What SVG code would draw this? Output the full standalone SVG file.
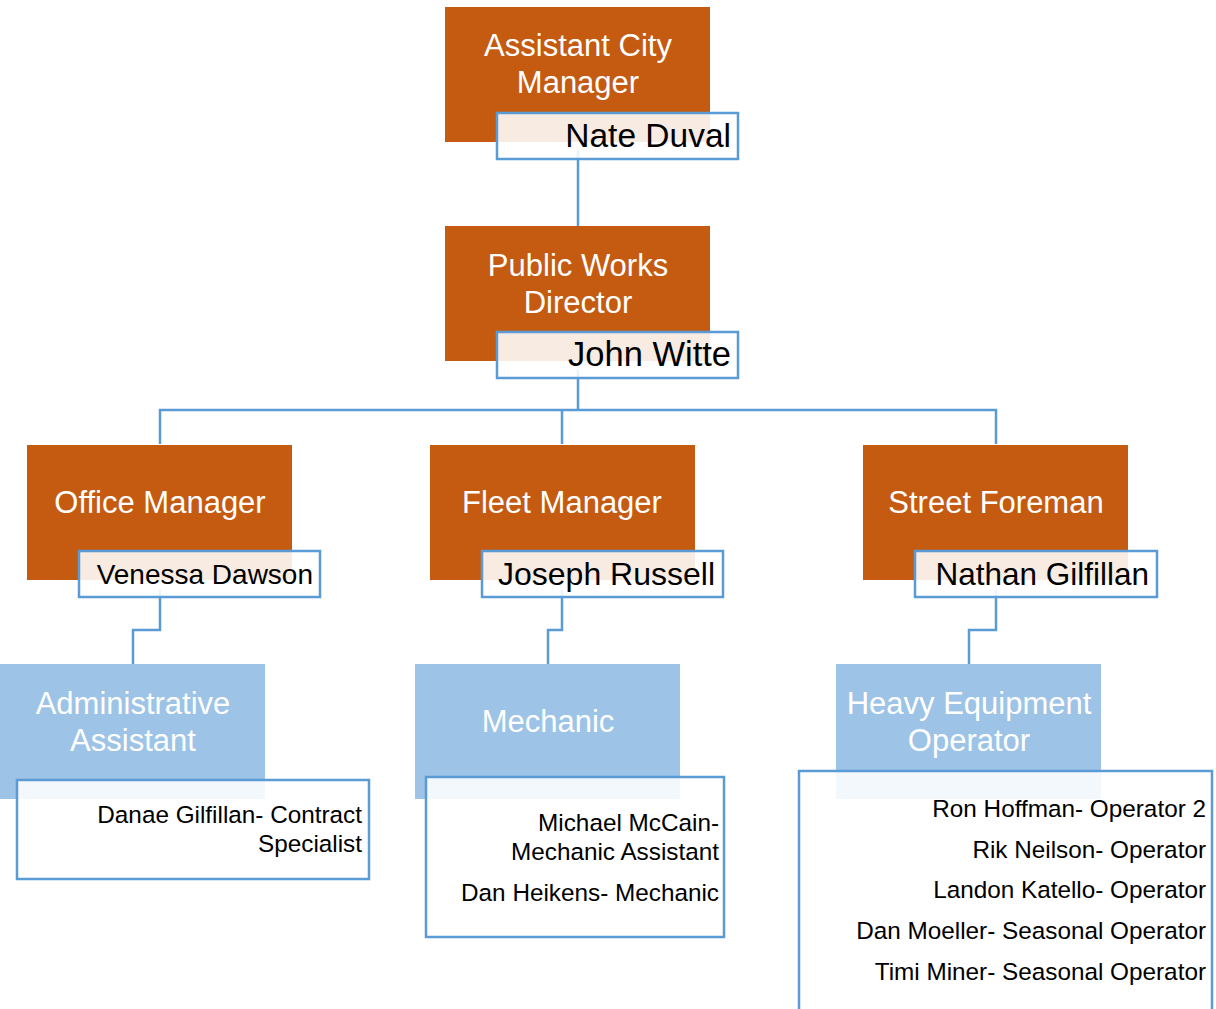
<svg xmlns="http://www.w3.org/2000/svg" width="1216" height="1009" viewBox="0 0 1216 1009">
<style>
.org{fill:#C55A11}
.blu{fill:#9DC3E6}
.nm{fill:#FFFFFF;fill-opacity:0.88;stroke:#5B9BD5;stroke-width:2.5}
.tt{font-family:"Liberation Sans",Arial,sans-serif;fill:#FFFFFF;text-anchor:middle;font-size:31px}
.nt{font-family:"Liberation Sans",Arial,sans-serif;fill:#000000;text-anchor:end}
.st{font-family:"Liberation Sans",Arial,sans-serif;fill:#000000;text-anchor:end;font-size:24.3px}
.cn{fill:none;stroke:#5B9BD5;stroke-width:2.5}
</style>
<rect width="1216" height="1009" fill="#FFFFFF"/>
<g id="connectors">
<path class="cn" d="M578,150 V226"/>
<path class="cn" d="M578,370 V410 M160,444 V410 H996 V444 M562,410 V444"/>
<path class="cn" d="M160,590 V630 H133 V664"/>
<path class="cn" d="M562,590 V630 H548 V664"/>
<path class="cn" d="M996,590 V630 H969 V664"/>
</g>
<g id="n-acm">
<rect class="org" x="445" y="7" width="265" height="135"/>
<text class="tt" x="578" y="56">Assistant City</text>
<text class="tt" x="578" y="93">Manager</text>
<rect class="nm" x="497" y="113" width="241" height="46"/>
<text class="nt" x="731" y="147" font-size="33.5">Nate Duval</text>
</g>
<g id="n-pwd">
<rect class="org" x="445" y="226" width="265" height="135"/>
<text class="tt" x="578" y="276">Public Works</text>
<text class="tt" x="578" y="313">Director</text>
<rect class="nm" x="497" y="332" width="241" height="46"/>
<text class="nt" x="731" y="366" font-size="34.5">John Witte</text>
</g>
<g id="n-office">
<rect class="org" x="27" y="445" width="265" height="135"/>
<text class="tt" x="160" y="513">Office Manager</text>
<rect class="nm" x="79" y="551" width="241" height="46"/>
<text class="nt" x="313" y="584" font-size="28">Venessa Dawson</text>
</g>
<g id="n-fleet">
<rect class="org" x="430" y="445" width="265" height="135"/>
<text class="tt" x="562" y="513">Fleet Manager</text>
<rect class="nm" x="482" y="551" width="241" height="46"/>
<text class="nt" x="715" y="585" font-size="32">Joseph Russell</text>
</g>
<g id="n-street">
<rect class="org" x="863" y="445" width="265" height="135"/>
<text class="tt" x="996" y="513">Street Foreman</text>
<rect class="nm" x="915" y="551" width="242" height="46"/>
<text class="nt" x="1149" y="585" font-size="31.5">Nathan Gilfillan</text>
</g>
<g id="n-admin">
<rect class="blu" x="0" y="664" width="265" height="135"/>
<text class="tt" x="133" y="714">Administrative</text>
<text class="tt" x="133" y="751">Assistant</text>
<rect class="nm" x="17" y="780" width="352" height="99"/>
<text class="st" x="362" y="823">Danae Gilfillan- Contract</text>
<text class="st" x="362" y="852">Specialist</text>
</g>
<g id="n-mech">
<rect class="blu" x="415" y="664" width="265" height="135"/>
<text class="tt" x="548" y="732">Mechanic</text>
<rect class="nm" x="426" y="777" width="298" height="160"/>
<text class="st" x="719" y="831">Michael McCain-</text>
<text class="st" x="719" y="860">Mechanic Assistant</text>
<text class="st" x="719" y="901">Dan Heikens- Mechanic</text>
</g>
<g id="n-heavy">
<rect class="blu" x="836" y="664" width="265" height="135"/>
<text class="tt" x="969" y="714">Heavy Equipment</text>
<text class="tt" x="969" y="751">Operator</text>
<rect class="nm" x="799" y="771" width="413" height="260"/>
<text class="st" x="1206" y="817">Ron Hoffman- Operator 2</text>
<text class="st" x="1206" y="858">Rik Neilson- Operator</text>
<text class="st" x="1206" y="898">Landon Katello- Operator</text>
<text class="st" x="1206" y="939">Dan Moeller- Seasonal Operator</text>
<text class="st" x="1206" y="980">Timi Miner- Seasonal Operator</text>
</g>
</svg>
